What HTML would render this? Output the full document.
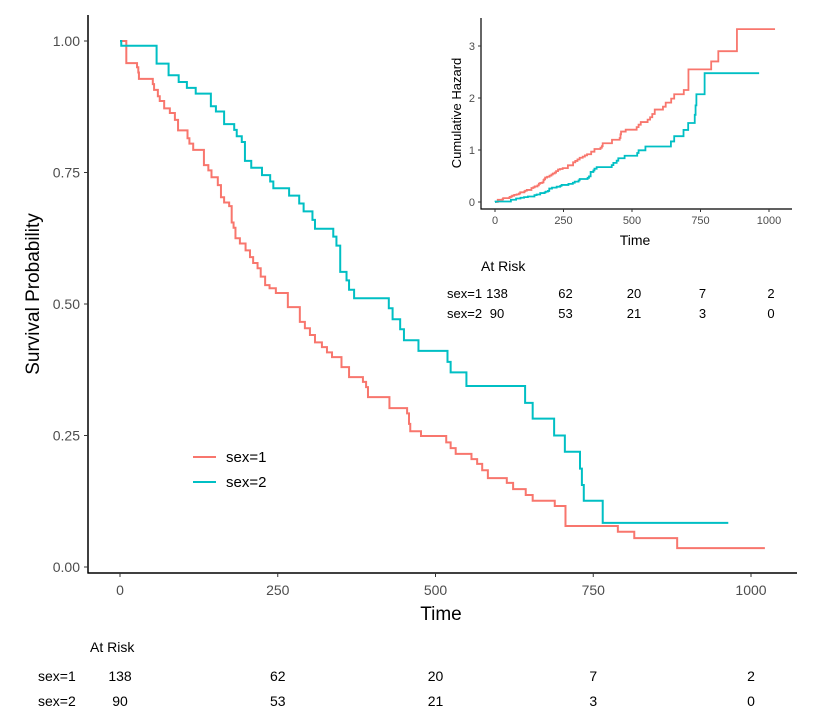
<!DOCTYPE html>
<html><head><meta charset="utf-8"><style>
html,body{margin:0;padding:0;background:#fff;}
svg{display:block;font-family:"Liberation Sans",Arial,sans-serif;}
</style></head><body>
<svg id="chart" width="816" height="722" viewBox="0 0 816 722"></svg>
<script>
// ---- data ----
const groups = ["sex=1","sex=2"];
const colors = ["#F8766D","#00BFC4"];
const times1 = [0,10,27,29,30,52,54,60,63,70,79,87,92,107,110,116,133,140,145,155,160,165,173,177,180,183,190,199,206,211,218,223,230,237,247,266,285,293,301,309,320,328,336,351,363,385,390,393,427,455,458,460,477,517,524,532,557,566,574,583,613,623,643,654,689,706,789,815,883,1022];
const surv1  = [1,0.958,0.950,0.940,0.928,0.918,0.907,0.895,0.886,0.872,0.863,0.850,0.830,0.815,0.805,0.793,0.764,0.754,0.741,0.726,0.703,0.693,0.686,0.655,0.645,0.625,0.615,0.602,0.589,0.578,0.568,0.552,0.536,0.530,0.521,0.494,0.466,0.454,0.441,0.427,0.418,0.408,0.399,0.380,0.361,0.352,0.342,0.323,0.302,0.292,0.272,0.258,0.249,0.237,0.226,0.215,0.205,0.196,0.184,0.169,0.160,0.148,0.137,0.126,0.116,0.078,0.067,0.055,0.036,0.036];
const times2 = [0,2,58,77,93,106,120,144,152,165,181,185,193,198,208,225,238,243,268,284,291,305,309,338,343,349,359,363,371,426,432,444,450,473,519,524,549,642,654,688,705,729,732,735,765,964];
const surv2  = [1,0.991,0.957,0.935,0.922,0.911,0.900,0.876,0.866,0.842,0.831,0.819,0.808,0.772,0.759,0.745,0.733,0.720,0.706,0.691,0.676,0.660,0.643,0.628,0.611,0.561,0.545,0.527,0.511,0.492,0.471,0.452,0.431,0.411,0.390,0.370,0.344,0.312,0.282,0.250,0.219,0.187,0.156,0.126,0.084,0.084];
const xTicks = [0,250,500,750,1000];
const yTicks = [0,0.25,0.5,0.75,1];
const yTickLabels = ["0.00","0.25","0.50","0.75","1.00"];
const hazTicks = [0,1,2,3];
const atRisk1 = [138,62,20,7,2];
const atRisk2 = [90,53,21,3,0];

const NS="http://www.w3.org/2000/svg";
const svg=document.getElementById('chart');
function el(tag,attrs,parent){const e=document.createElementNS(NS,tag);for(const k in attrs)e.setAttribute(k,attrs[k]);(parent||svg).appendChild(e);return e;}
function txt(s,attrs,parent){const e=el('text',attrs,parent);e.textContent=s;return e;}

const X=t=>120+t*0.631;
const Y=s=>567-s*526;
const IX=t=>495+t*0.274;
const IY=h=>202-h*52;

function stepPath(ts,vs,fx,fy){let d=`M${fx(ts[0])},${fy(vs[0])}`;for(let i=1;i<ts.length;i++){d+=` H${fx(ts[i])} V${fy(vs[i])}`;}return d;}

// ---- main axes ----
const ax=el('g',{});


el('line',{x1:88,y1:15,x2:88,y2:573.5,stroke:'#000','stroke-width':1.5},ax);
el('line',{x1:87.5,y1:573,x2:797,y2:573,stroke:'#000','stroke-width':1.5},ax);
yTicks.forEach((v,i)=>{
  el('line',{x1:84,x2:88,y1:Y(v),y2:Y(v),stroke:'#333','stroke-width':1},ax);
  const t=txt(yTickLabels[i],{x:80,y:Y(v)+5,'text-anchor':'end','font-size':14,fill:'#4d4d4d'},ax);
  
  
});
xTicks.forEach(v=>{
  el('line',{x1:X(v),x2:X(v),y1:573,y2:577,stroke:'#333','stroke-width':1},ax);
  const t=txt(String(v),{x:X(v),y:595,'text-anchor':'middle','font-size':14,fill:'#4d4d4d'},ax);
  
  
});
const xt=txt('Time',{x:441,y:620,'text-anchor':'middle','font-size':19,fill:'#000'});


const yt=txt('Survival Probability',{x:0,y:0,'text-anchor':'middle','font-size':19,fill:'#000',transform:'translate(39,294) rotate(-90)'});



[[times1,surv1],[times2,surv2]].forEach((d,i)=>{
  const p=el('path',{d:stepPath(d[0],d[1],X,Y),fill:'none',stroke:colors[i],'stroke-width':2});
  
  
});

groups.forEach((g,i)=>{
  const lg=el('g',{});
  
  
  const ly=457+i*25;
  el('line',{x1:193,x2:216,y1:ly,y2:ly,stroke:colors[i],'stroke-width':2},lg);
  txt(g,{x:226,y:ly+5,'font-size':15,fill:'#000'},lg);
});

const rt=el('g',{});


txt('At Risk',{x:90,y:652,'font-size':14,fill:'#000'},rt);
[atRisk1,atRisk2].forEach((row,i)=>{
  const ry=681+i*25;
  txt(groups[i],{x:38,y:ry,'font-size':14,fill:'#000'},rt);
  row.forEach((n,j)=>txt(String(n),{x:X(xTicks[j]),y:ry,'text-anchor':'middle','font-size':14,fill:'#000'},rt));
});

// ---- inset ----
const ig=el('g',{});


el('line',{x1:481,y1:18,x2:481,y2:209.5,stroke:'#000','stroke-width':1.2},ig);
el('line',{x1:480.5,y1:209,x2:792,y2:209,stroke:'#000','stroke-width':1.2},ig);
hazTicks.forEach(v=>{
  el('line',{x1:478,x2:481,y1:IY(v),y2:IY(v),stroke:'#333'},ig);
  txt(String(v),{x:475,y:IY(v)+4,'text-anchor':'end','font-size':11,fill:'#4d4d4d'},ig);
});
xTicks.forEach(v=>{
  el('line',{x1:IX(v),x2:IX(v),y1:209,y2:212,stroke:'#333'},ig);
  txt(String(v),{x:IX(v),y:224,'text-anchor':'middle','font-size':11,fill:'#4d4d4d'},ig);
});
txt('Time',{x:635,y:245,'text-anchor':'middle','font-size':14,fill:'#000'},ig);
txt('Cumulative Hazard',{x:0,y:0,'text-anchor':'middle','font-size':13,fill:'#000',transform:'translate(461,113) rotate(-90)'},ig);
[[times1,surv1],[times2,surv2]].forEach((d,i)=>{
  const h=d[1].map(s=>-Math.log(s));
  const p=el('path',{d:stepPath(d[0],h,IX,IY),fill:'none',stroke:colors[i],'stroke-width':1.8},ig);
  
  
});
const it=el('g',{});


txt('At Risk',{x:481,y:271,'font-size':14,fill:'#000'},it);
[atRisk1,atRisk2].forEach((row,i)=>{
  const ry=298+i*20;
  txt(groups[i],{x:447,y:ry,'font-size':13,fill:'#000'},it);
  row.forEach((n,j)=>txt(String(n),{x:IX(xTicks[j])+2,y:ry,'text-anchor':'middle','font-size':13,fill:'#000'},it));
});
</script>
</body></html>
